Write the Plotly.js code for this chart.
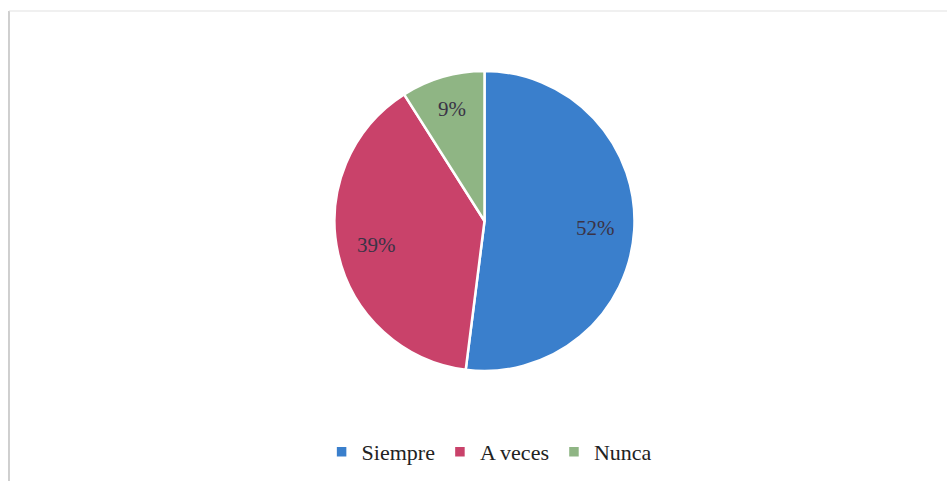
<!DOCTYPE html>
<html>
<head>
<meta charset="utf-8">
<script src="https://cdn.plot.ly/plotly-3.0.1.min.js"></script>
<style>
html,body{margin:0;padding:0;background:#fff;}
#chart{width:947px;height:481px;position:relative;z-index:1;}
.pre{position:absolute;left:200px;top:300px;color:#ffffff;font-size:12px;z-index:0;}
#chart text{font-family:"Times New Roman","Liberation Serif",serif !important;}
</style>
</head>
<body>
<div class="pre" style="font-family:'Liberation Serif'">Siempre A veces Nunca 52% 39% 9%</div>
<div class="pre" style="font-family:'Times New Roman';top:320px">Siempre A veces Nunca 52% 39% 9%</div>
<div id="chart" style="position:absolute;left:0;top:0"></div>
<script>
var categories = ["Siempre", "A veces", "Nunca"];
var values = [52, 39, 9];
var sliceColors = ["#3a7fcc", "#c9426a", "#8fb584"];

var W = 947, H = 481;
var cx = 484.5, cy = 221, R = 150;
var serif = "Times New Roman";

function draw() {
  var trace = {
    type: "pie",
    labels: categories,
    values: values,
    sort: false,
    direction: "clockwise",
    rotation: 0,
    textinfo: "none",
    marker: {colors: sliceColors, line: {color: "#ffffff", width: 2.5}},
    domain: {x: [(cx - R)/W, (cx + R)/W], y: [1 - (cy + R)/H, 1 - (cy - R)/H]},
    hoverinfo: "none"
  };

  // label positions derived from the values (mid-angle of each slice)
  var total = values.reduce(function(a, b){ return a + b; }, 0);
  var annotations = [];
  var acc = 0;
  var labelFrac = [0.74, 0.74, 0.78];
  for (var i = 0; i < values.length; i++) {
    var mid = (acc + values[i] / 2) / total * 2 * Math.PI;
    acc += values[i];
    var r = R * labelFrac[i];
    var px = cx + r * Math.sin(mid);
    var py = cy - r * Math.cos(mid);
    annotations.push({
      xref: "paper", yref: "paper",
      x: px / W, y: 1 - py / H,
      xanchor: "center", yanchor: "middle",
      text: Math.round(values[i] / total * 100) + "%",
      showarrow: false,
      font: {family: serif, size: 21, color: "#3a3346"}
    });
  }

  var layout = {
    width: W, height: H,
    margin: {l: 0, r: 0, t: 0, b: 0},
    paper_bgcolor: "#ffffff",
    font: {family: serif},
    showlegend: true,
    legend: {
      orientation: "h",
      x: 0.517, xanchor: "center",
      y: 1 - 452/481, yanchor: "middle",
      font: {family: serif, size: 22, color: "#222222"},
      traceorder: "normal"
    },
    annotations: annotations,
    shapes: [
      {type: "line", xref: "paper", yref: "paper", x0: 9/947, x1: 9/947, y0: 0, y1: 1 - 11/481, line: {color: "#b0b0b0", width: 1.2}},
      {type: "line", xref: "paper", yref: "paper", x0: 9/947, x1: 1, y0: 1 - 11/481, y1: 1 - 11/481, line: {color: "#e2e2e2", width: 1.2}}
    ]
  };

  Plotly.newPlot("chart", [trace], layout, {displayModeBar: false, staticPlot: true});
}

// force a layout of the preload text first so the serif face is resolved
document.querySelector(".pre").getBoundingClientRect();
draw();
setTimeout(draw, 50);
</script>
</body>
</html>
